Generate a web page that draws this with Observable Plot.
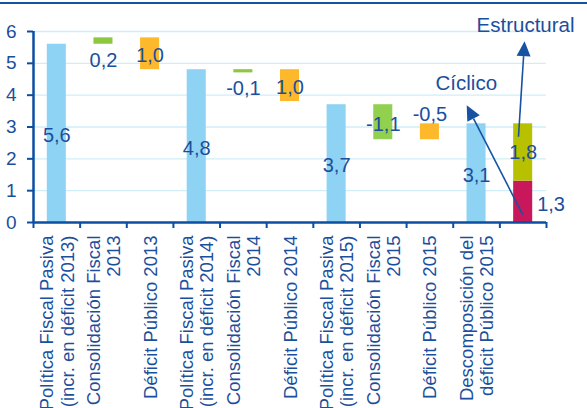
<!DOCTYPE html>
<html><head><meta charset="utf-8">
<script src="https://cdn.jsdelivr.net/npm/d3@7"></script>
<script src="https://cdn.jsdelivr.net/npm/@observablehq/plot@0.6"></script>
<style>
html,body{margin:0;padding:0;background:#fff;}
#chart{position:relative;width:587px;height:408px;overflow:hidden;}
#topline{position:absolute;left:0;top:2px;width:587px;height:2px;background:#1553A5;}
#plot{position:absolute;left:0;top:0;}
</style></head><body>
<div id="chart"><div id="topline"></div><div id="plot"></div></div>
<script>
// ---- data ----
const categories = [
  "Política Fiscal Pasiva\n(incr. en déficit 2013)",
  "Consolidación Fiscal\n2013",
  "Déficit Público 2013",
  "Política Fiscal Pasiva\n(incr. en déficit 2014)",
  "Consolidación Fiscal\n2014",
  "Déficit Público 2014",
  "Política Fiscal Pasiva\n(incr. en déficit 2015)",
  "Consolidación Fiscal\n2015",
  "Déficit Público 2015",
  "Descomposición del\ndéficit Público 2015",
  ""
];
const barValues = [5.6, 0.2, 1.0, 4.8, -0.1, 1.0, 3.7, -1.1, -0.5, 3.1];
const barLow    = [0, 5.6, 4.8, 0, 4.7, 3.8, 0, 2.6, 2.6, 0];
const barHigh   = [5.6, 5.8, 5.8, 4.8, 4.8, 4.8, 3.7, 3.7, 3.1, 3.1];
const barKinds  = ["pasiva","consol","deficit","pasiva","consol","deficit","pasiva","consol15","deficit","pasiva"];
const labelPlacement = ["mid","below","mid","mid","below","mid","mid","mid","above","mid"];
const componentNames  = ["Cíclico", "Estructural"];
const componentValues = [1.3, 1.8];
const yTicks = [0, 1, 2, 3, 4, 5, 6];

// ---- styling / annotation config ----
const colors = {pasiva:"#8ED3F4", consol:"#8DC63F", consol15:"#92D050", deficit:"#FDB92B", "Cíclico":"#C8175B", "Estructural":"#B8C100"};
const navy = "#1B4F9C", axisBlue = "#0B4EA2";
const arrows = [
  {label:"Cíclico", x1:10.5, y1:0.23, x2:9.3, y2:3.67, tx:9.28, ty:4.37},
  {label:"Estructural", x1:10.41, y1:2.68, x2:10.54, y2:5.68, tx:10.55, ty:6.19}
];

const fmt = v => v.toFixed(1).replace(".", ",");
const rows = barValues.map((v, i) => ({i, v, low: barLow[i], high: barHigh[i], kind: barKinds[i], place: labelPlacement[i]}));
let acc = 0;
const stackRows = componentValues.map((v, k) => { const r = {i: categories.length - 1, v, low: acc, high: acc + v, kind: componentNames[k]}; acc += v; return r; });
const allRects = rows.concat(stackRows);
const font = "Liberation Sans, Arial, Helvetica, sans-serif";

const arrowMark = (index, scales) => {
  const g = d3.create("svg:g");
  for (const a of arrows) {
    const x1 = scales.x(a.x1), y1 = scales.y(a.y1), x2 = scales.x(a.x2), y2 = scales.y(a.y2);
    const ang = Math.atan2(y2 - y1, x2 - x1);
    const L = 15, W = 7;
    const bx = x2 - L * Math.cos(ang), by = y2 - L * Math.sin(ang);
    g.append("line").attr("x1", x1).attr("y1", y1).attr("x2", bx).attr("y2", by)
      .attr("stroke", "#1752A3").attr("stroke-width", 1.6);
    g.append("path")
      .attr("d", `M${x2},${y2}L${bx - W * Math.sin(ang)},${by + W * Math.cos(ang)}L${bx + W * Math.sin(ang)},${by - W * Math.cos(ang)}Z`)
      .attr("fill", "#1752A3");
  }
  return g.node();
};

const plot = Plot.plot({
  width: 587, height: 408,
  marginLeft: 33, marginRight: 41, marginTop: 31, marginBottom: 186,
  x: {type: "linear", domain: [0, categories.length]},
  y: {domain: [0, 6]},
  color: {type: "identity"},
  style: {fontFamily: font, color: navy, background: "transparent", overflow: "visible"},
  marks: [
    Plot.gridY(yTicks.slice(1), {stroke: "#CFEEFA", strokeOpacity: 1, strokeWidth: 1.3}),
    Plot.rectY(allRects, {x1: d => d.i, x2: d => d.i + 1, y1: "low", y2: "high", fill: d => colors[d.kind], insetLeft: 13.8, insetRight: 13.8}),
    Plot.axisY(yTicks, {tickSize: 6, tickPadding: 11, fontSize: 19, stroke: axisBlue, strokeWidth: 2, label: null}),
    Plot.axisX(d3.range(categories.length + 1), {tickSize: 6, tickFormat: () => "", stroke: axisBlue, strokeWidth: 2, label: null}),
    Plot.axisX(d3.range(categories.length).map(i => i + 0.5), {tickSize: 0, tickPadding: 13, tickRotate: -90, fontSize: 18.5, lineHeight: 1.1, tickFormat: d => categories[Math.floor(d)], label: null}),
    Plot.ruleY([0], {stroke: axisBlue, strokeWidth: 2.5}),
    Plot.ruleX([0], {stroke: axisBlue, strokeWidth: 2.5}),
    Plot.text(rows.filter(d => d.place === "mid"), {x: d => d.i + 0.5, y: d => (d.low + d.high) / 2, text: d => fmt(d.v), dy: 2, fontSize: 20, fill: navy}),
    Plot.text(rows.filter(d => d.place === "below"), {x: d => d.i + 0.5, y: "low", text: d => fmt(d.v), dy: 16, fontSize: 20, fill: navy}),
    Plot.text(rows.filter(d => d.place === "above"), {x: d => d.i + 0.5, y: "high", text: d => fmt(d.v), dy: -9, fontSize: 20, fill: navy}),
    Plot.text(stackRows.slice(1), {x: d => d.i + 0.5, y: d => (d.low + d.high) / 2, text: d => fmt(d.v), dy: 0, fontSize: 20, fill: navy}),
    Plot.text(stackRows.slice(0, 1), {x: d => d.i + 0.5, y: d => (d.low + d.high) / 2, text: d => fmt(d.v), dx: 14, dy: 3, textAnchor: "start", fontSize: 20, fill: navy}),
    arrowMark,
    Plot.text(arrows, {x: "tx", y: "ty", text: "label", fontSize: 20.5, fill: navy})
  ]
});
document.getElementById("plot").appendChild(plot);
</script>
</body></html>
